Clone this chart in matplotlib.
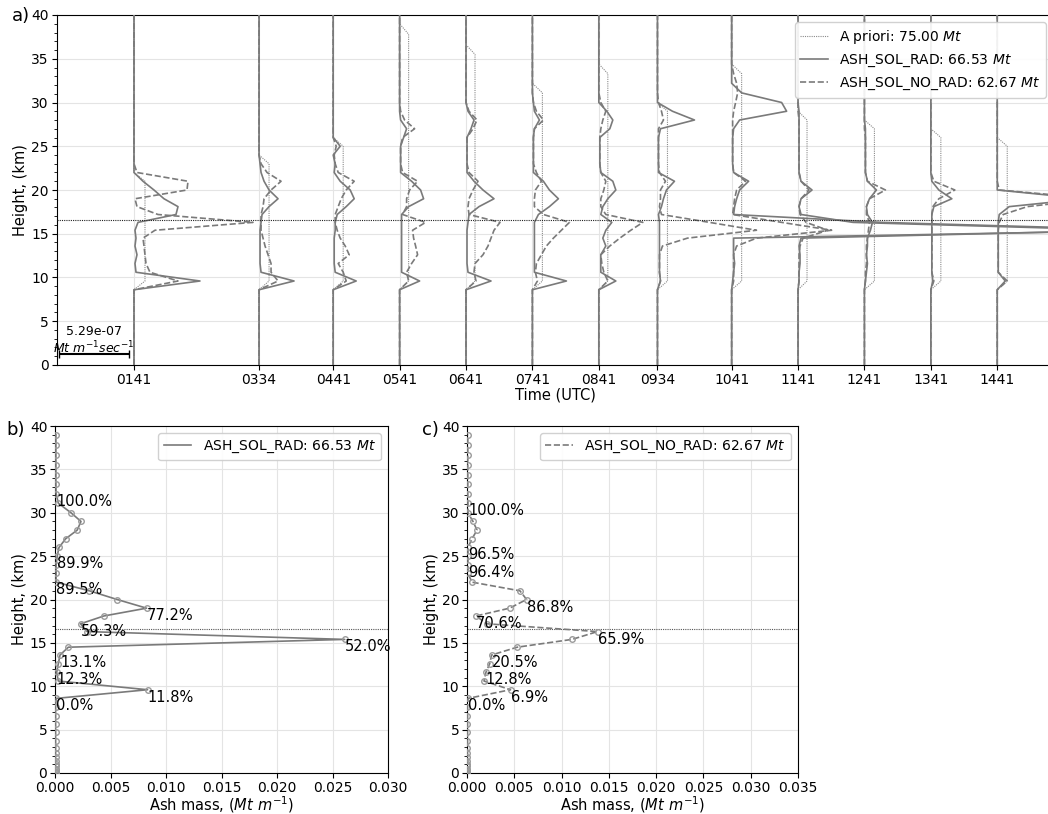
import matplotlib
matplotlib.use("Agg")
import matplotlib.pyplot as plt
from matplotlib.ticker import MultipleLocator, FormatStrFormatter
import numpy as np

plt.rcParams['font.family'] = ['DejaVu Sans']

# ---------------- data ----------------
time_labels = ["0141", "0334", "0441", "0541", "0641", "0741", "0841",
               "0934", "1041", "1141", "1241", "1341", "1441"]

# model levels (km) of the emission profiles in panel a (values below 8.6 km are zero)
prof_levels = [8.6, 9.6, 10.6, 11.6, 12.6, 13.6, 14.5, 15.4, 16.3, 17.2, 18.1,
               19.0, 20.0, 21.0, 22.0, 23.0, 24.0, 25.0, 26.0, 27.0, 28.0, 29.0,
               30.0, 31.1, 32.2, 33.3, 34.4, 35.5, 36.6, 37.8, 39.0]

# emission-rate profiles in units of (5.29e-07/70) Mt m^-1 s^-1, from 8.6 km upward
sol_0141 = [0, 66, 2, 1, 3, 1, 2, 1, 4, 42, 44, 30, 20, 9, 0]
nor_0141 = [0, 44, 16, 12, 11, 10, 9, 21, 119, 24, 3, 1, 53, 54, 3, 0]
sol_0334 = [0, 35, 2, 1, 1, 1, 1, 1, 2, 3, 10, 19, 10, 5, 2, 1, 0]
nor_0334 = [0, 19, 12, 12, 9, 6, 4, 2, 2, 2, 4, 5, 12, 22, 8, 2, 0]
sol_0441 = [0, 23, 2, 1, 1, 1, 1, 2, 2, 4, 13, 21, 17, 7, 1, 2, 0, 7, 0]
nor_0441 = [0, 13, 10, 5, 16, 12, 7, 4, 2, 2, 5, 8, 13, 21, 5, 2, 1, 3, 0]
sol_0541 = [0, 20, 2, 2, 2, 2, 2, 2, 2, 2, 9, 24, 21, 12, 1, 1, 1, 1, 4, 7, 1, 0]
nor_0541 = [0, 9, 7, 12, 18, 16, 14, 13, 26, 3, 7, 7, 10, 18, 3, 1, 1, 1, 3, 15, 5, 1, 0]
sol_0641 = [0, 25, 2, 1, 1, 1, 1, 1, 2, 3, 13, 28, 17, 8, 1, 1, 1, 1, 1, 5, 8, 2, 0]
nor_0641 = [0, 10, 8, 9, 17, 22, 25, 28, 34, 3, 2, 3, 7, 12, 3, 1, 1, 1, 1, 7, 11, 3, 0]
sol_0741 = [0, 34, 2, 2, 2, 2, 2, 2, 2, 6, 17, 26, 17, 11, 1, 1, 1, 1, 1, 2, 7, 2, 1, 0]
nor_0741 = [0, 5, 3, 4, 9, 14, 21, 29, 37, 11, 2, 2, 3, 9, 4, 1, 1, 1, 1, 2, 11, 4, 1, 0]
sol_0841 = [0, 17, 2, 2, 2, 7, 4, 7, 13, 2, 4, 9, 17, 14, 2, 1, 1, 1, 1, 11, 14, 8, 0]
nor_0841 = [0, 9, 5, 3, 2, 11, 21, 32, 44, 7, 2, 2, 5, 7, 2, 1, 1, 1, 1, 2, 4, 7, 2, 0]
sol_0934 = [0, 3, 2, 2, 2, 2, 2, 2, 2, 1, 4, 6, 9, 17, 1, 1, 1, 1, 1, 3, 37, 15, 0]
nor_0934 = [0, 3, 2, 2, 2, 5, 30, 99, 52, 4, 2, 3, 3, 8, 2, 1, 1, 1, 1, 1, 6, 4, 1, 0]
sol_1041 = [0, 1, 2, 3, 2, 2, 2, 425, 150, 2, 3, 5, 8, 17, 2, 1, 1, 1, 1, 2, 8, 55, 50, 10, 0]
nor_1041 = [0, 2, 2, 2, 2, 5, 25, 100, 50, 1, 2, 3, 5, 14, 2, 1, 1, 1, 1, 1, 1, 2, 4, 6, 5, 2, 0]
sol_1141 = [0, 1, 1, 2, 2, 1, 3, 330, 55, 3, 1, 3, 14, 3, 1, 1, 1, 1, 1, 1, 1, 1, 0]
nor_1141 = [0, 1, 1, 1, 1, 2, 5, 30, 8, 2, 1, 3, 11, 3, 1, 1, 1, 1, 1, 1, 1, 0]
sol_1241 = [0, 1, 2, 3, 2, 3, 3, 6, 8, 3, 2, 5, 12, 3, 1, 1, 1, 1, 1, 1, 0]
nor_1241 = [0, 1, 1, 2, 2, 2, 3, 4, 5, 2, 2, 5, 21, 3, 1, 1, 1, 1, 1, 0]
sol_1341 = [0, 2, 1, 1, 1, 1, 1, 1, 1, 1, 3, 21, 8, 1, 0]
nor_1341 = [0, 3, 1, 1, 1, 1, 1, 1, 1, 1, 2, 8, 24, 3, 0]
sol_1441 = [0, 8, 1, 1, 1, 1, 1, 1, 1, 2, 12, 88, 0]
nor_1441 = [0, 10, 1, 1, 1, 1, 1, 1, 2, 6, 30, 100, 2, 0]

# a priori: constant rate (same units) from 9.6 km up to a top level
apriori_rate = [11, 10, 10, 9, 9, 10, 9, 10, 10, 9, 10, 10, 10]
apriori_top = [21.0, 23.0, 25.0, 37.8, 35.5, 31.1, 33.3, 29.0, 33.3, 28.0, 27.0, 26.0, 25.0]

scale_bar_value = 5.29e-07     # Mt m^-1 s^-1
scale_bar_units = 70           # same value in profile units

# panels b, c: total ash mass per level (Mt m^-1)
mass_levels = [0.05, 0.15, 0.3, 0.5, 0.75, 1.05, 1.4, 1.8, 2.3, 2.9, 3.7, 4.7, 5.6, 6.6, 7.6,
               8.6, 9.6, 10.6, 11.6, 12.6, 13.6, 14.5, 15.4, 16.3, 17.2, 18.1,
               19.0, 20.0, 21.0, 22.0, 23.0, 24.0, 25.0, 26.0, 27.0, 28.0, 29.0,
               30.0, 31.1, 32.2, 33.3, 34.4, 35.5, 36.6, 37.8, 39.0]
mass_sol = [0.00005, 0.00005, 0.00005, 0.00005, 0.00005, 0.00005, 0.00005, 0.00005,
            0.00005, 0.00005, 0.00005, 0.00005, 0.00005, 0.00005, 0.00005,
            0.0001, 0.00834, 0.0003, 0.00015, 0.0003, 0.00045, 0.0012, 0.0261, 0.0029,
            0.0023, 0.0044, 0.00825, 0.0056, 0.0031, 0.0001, 0.0001, 0.0001, 0.0002,
            0.00036, 0.00096, 0.0020, 0.00234, 0.00144, 0.0003, 0.0001,
            0.00008, 0.00008, 0.00008, 0.00008, 0.00008, 0.00008]
mass_nor = [0.00005, 0.00005, 0.00005, 0.00005, 0.00005, 0.00005, 0.00005, 0.00005,
            0.00005, 0.00005, 0.00005, 0.00005, 0.00005, 0.00005, 0.00005,
            0.0001, 0.0046, 0.0018, 0.0020, 0.0024, 0.0026, 0.0053, 0.0111, 0.0138,
            0.0021, 0.00095, 0.0045, 0.0063, 0.0056, 0.00053, 0.0001, 0.0001, 0.0001,
            0.0001, 0.00053, 0.00106, 0.00063, 0.0001, 0.0001, 0.00008,
            0.00008, 0.00008, 0.00008, 0.00008, 0.00008, 0.00008]

sol_label_levels = [32.2, 25.0, 22.0, 19.0, 17.2, 15.4, 13.6, 11.6, 9.6, 8.6]
sol_label_text = ["100.0%", "89.9%", "89.5%", "77.2%", "59.3%", "52.0%",
                  "13.1%", "12.3%", "11.8%", "0.0%"]
nor_label_levels = [31.1, 26.0, 24.0, 20.0, 18.1, 16.3, 13.6, 11.6, 9.6, 8.6]
nor_label_text = ["100.0%", "96.5%", "96.4%", "86.8%", "70.6%", "65.9%",
                  "20.5%", "12.8%", "6.9%", "0.0%"]

tropopause_km = 16.57
label_apriori = "A priori: 75.00 $Mt$"
label_sol = "ASH_SOL_RAD: 66.53 $Mt$"
label_nor = "ASH_SOL_NO_RAD: 62.67 $Mt$"

sol_profiles = [sol_0141, sol_0334, sol_0441, sol_0541, sol_0641, sol_0741, sol_0841,
                sol_0934, sol_1041, sol_1141, sol_1241, sol_1341, sol_1441]
nor_profiles = [nor_0141, nor_0334, nor_0441, nor_0541, nor_0641, nor_0741, nor_0841,
                nor_0934, nor_1041, nor_1141, nor_1241, nor_1341, nor_1441]

# ---------------- figure ----------------
W, H = 1048, 814
fig = plt.figure(figsize=(W / 100, H / 100), dpi=100)


def rect(l, t, r, b):
    return [l / W, 1 - b / H, (r - l) / W, (b - t) / H]


GRID = '#e4e4e4'
LINEC = '#7a7a7a'
TICK_FS = 10
LABEL_FS = 10.5

# ---- panel a ----
ax = fig.add_axes(rect(57, 15, 1053, 365))
times = [int(s[:2]) + int(s[2:]) / 60 for s in time_labels]
hours_per_unit = 1.0 / 66.4
n = len(prof_levels)
z = [0.0] + prof_levels + [40.0]
for i, t in enumerate(times):
    ap = [apriori_rate[i] if (9.5 <= h <= apriori_top[i] + 0.01) else 0 for h in prof_levels]
    s = sol_profiles[i] + [0] * (n - len(sol_profiles[i]))
    d = nor_profiles[i] + [0] * (n - len(nor_profiles[i]))
    ax.plot(t + np.array([0] + ap + [0]) * hours_per_unit, z, ls=(0, (1, 1)), lw=0.8,
            color='#8a8a8a', zorder=3, label=label_apriori if i == 0 else None)
    ax.plot(t + np.array([0] + s + [0]) * hours_per_unit, z, ls='-', lw=1.2,
            color=LINEC, zorder=5, label=label_sol if i == 0 else None)
    ax.plot(t + np.array([0] + d + [0]) * hours_per_unit, z, ls='--', lw=1.2,
            color=LINEC, zorder=4, label=label_nor if i == 0 else None)

ax.axhline(tropopause_km, color='#222222', ls=(0, (1, 1)), lw=0.8, zorder=6)
ax.set_xlim(0.524, 15.523)
ax.set_ylim(0, 40)
ax.set_xticks(times)
ax.set_xticklabels(time_labels)
ax.yaxis.set_major_locator(MultipleLocator(5))
ax.yaxis.set_minor_locator(MultipleLocator(1))
ax.tick_params(labelsize=TICK_FS, pad=2.5)
ax.grid(True, color=GRID, lw=0.8)
ax.set_axisbelow(True)
ax.set_xlabel("Time (UTC)", fontsize=LABEL_FS, labelpad=0)
ax.set_ylabel("Height, (km)", fontsize=LABEL_FS, labelpad=2)
ax.legend(loc='upper right', fontsize=10, framealpha=0.9)

# scale bar
bar_len = scale_bar_units * hours_per_unit
bar_x0 = 0.555
ax.errorbar(bar_x0 + bar_len / 2, 1.26, xerr=bar_len / 2, color='k', lw=1.5,
            capsize=3, capthick=1, zorder=7)
ax.text(bar_x0 + bar_len / 2, 1.0, "%.2e\n$Mt\\ m^{-1}sec^{-1}$" % scale_bar_value,
        ha='center', va='bottom', fontsize=9, linespacing=1.1, zorder=7)
fig.text(12 / W, 1 - 16 / H, "a)", fontsize=13, ha='left', va='center')


# ---- panels b, c ----
def mass_panel(r, vals, ls, label, lab_levels, lab_text, xmax, letter, letter_x):
    a = fig.add_axes(r)
    a.plot(vals, mass_levels, ls=ls, lw=1.2, color=LINEC, label=label, zorder=3)
    a.plot(vals, mass_levels, ls='none', marker='o', ms=4, mfc='none',
           mec='#9a9a9a', mew=1.0, zorder=4)
    a.axhline(tropopause_km, color='#555555', ls=(0, (1, 1)), lw=0.8, zorder=2)
    for h, txt in zip(lab_levels, lab_text):
        xv = vals[mass_levels.index(h)]
        a.text(xv, h, txt, ha='left', va='top', fontsize=10.5, zorder=6)
    a.set_xlim(0, xmax)
    a.set_ylim(0, 40)
    a.xaxis.set_major_locator(MultipleLocator(0.005))
    a.xaxis.set_major_formatter(FormatStrFormatter('%.3f'))
    a.yaxis.set_major_locator(MultipleLocator(5))
    a.yaxis.set_minor_locator(MultipleLocator(1))
    a.tick_params(labelsize=TICK_FS, pad=2)
    a.grid(True, color=GRID, lw=0.8)
    a.set_axisbelow(True)
    a.set_xlabel("Ash mass, ($Mt\\ m^{-1}$)", fontsize=LABEL_FS, labelpad=0)
    a.set_ylabel("Height, (km)", fontsize=LABEL_FS, labelpad=2)
    a.legend(loc='upper right', fontsize=10, framealpha=0.9)
    fig.text(letter_x / W, 1 - 430 / H, letter, fontsize=13, ha='left', va='center')
    return a


mass_panel(rect(55, 426, 388, 773), mass_sol, '-', label_sol,
           sol_label_levels, sol_label_text, 0.030, "b)", 6)
mass_panel(rect(467, 426, 798, 773), mass_nor, '--', label_nor,
           nor_label_levels, nor_label_text, 0.035, "c)", 422)

fig.savefig("out.png", dpi=100)
